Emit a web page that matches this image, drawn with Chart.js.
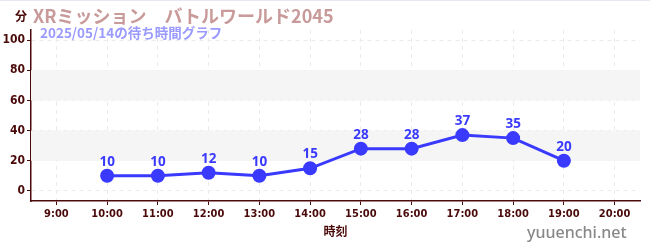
<!DOCTYPE html>
<html>
<head>
<meta charset="utf-8">
<script src="https://cdn.jsdelivr.net/npm/chart.js@4"></script>
<style>
  body { margin: 0; background: #fff; }
  #wrap { position: relative; width: 650px; height: 250px; border-top: 1px solid #e6e6f4; box-sizing: border-box; }
  #c { position: absolute; left: 0; top: 0; }
  .t { position: absolute; white-space: pre; font-family: "Noto Sans CJK JP", "Noto Sans", sans-serif; font-weight: bold; }
</style>
</head>
<body>
<div id="wrap">
  <canvas id="c" width="650" height="250"></canvas>
  <div class="t" style="left:15px;top:6px;font-size:12px;color:#4a0a0a;">分</div>
  <div class="t" style="left:33px;top:1px;font-size:18px;color:#c99a9a;">XRミッション　バトルワールド2045</div>
  <div class="t" style="left:40px;top:21px;font-size:13.5px;color:#9a9aff;">2025/05/14の待ち時間グラフ</div>
  <div class="t" style="left:527px;top:220px;font-size:16px;font-weight:500;color:#888888;font-family:'Noto Sans', sans-serif;">yuuenchi.net</div>
</div>
<script>
const hours = ['9:00', '10:00', '11:00', '12:00', '13:00', '14:00', '15:00', '16:00', '17:00', '18:00', '19:00', '20:00'];
const waits = [null, 10, 10, 12, 10, 15, 28, 28, 37, 35, 20, null];
const bands = [[20, 40], [60, 80]];

const dark = '#4a0a0a';

const bandPlugin = {
  id: 'bands',
  beforeDatasetsDraw(chart) {
    const { ctx, chartArea, scales } = chart;
    ctx.save();
    ctx.fillStyle = '#f5f5f5';
    bands.forEach(([a, b]) => {
      const y1 = scales.y.getPixelForValue(b);
      const y2 = scales.y.getPixelForValue(a);
      ctx.fillRect(chartArea.left, y1, chartArea.right - chartArea.left, y2 - y1);
    });
    ctx.restore();
  }
};

const labelPlugin = {
  id: 'vals',
  afterDatasetsDraw(chart) {
    const { ctx } = chart;
    const meta = chart.getDatasetMeta(0);
    ctx.save();
    ctx.fillStyle = '#3a3aff';
    ctx.font = 'bold 13.5px "Noto Sans", sans-serif';
    ctx.textAlign = 'center';
    ctx.textBaseline = 'bottom';
    meta.data.forEach((pt, i) => {
      if (waits[i] == null) return;
      ctx.fillText(String(waits[i]), pt.x, pt.y - 7);
    });
    ctx.restore();
  }
};

new Chart(document.getElementById('c'), {
  type: 'line',
  data: {
    labels: hours,
    datasets: [{
      data: waits,
      borderColor: '#3a3aff',
      backgroundColor: '#3a3aff',
      borderWidth: 3,
      pointRadius: 5.5,
      pointHoverRadius: 5.5,
      tension: 0
    }]
  },
  options: {
    responsive: false,
    animation: false,
    layout: { padding: { top: 29, right: 10, left: 0, bottom: 8 } },
    plugins: { legend: { display: false }, tooltip: { enabled: false } },
    scales: {
      x: {
        offset: true,
        afterFit(s) { s.height = 42; },
        grid: {
          offset: false,
          color: '#ebebeb',
          tickColor: dark,
          tickLength: 4
        },
        border: { color: dark, width: 1.5, dash: [4, 4] },
        ticks: { color: dark, font: { size: 11, weight: 'bold', family: '"DejaVu Sans Condensed", "DejaVu Sans", sans-serif' }, padding: 3, maxRotation: 0, autoSkip: false },
        title: { display: true, text: '時刻', color: dark, font: { size: 12, weight: 'bold', family: '"Noto Sans CJK JP", sans-serif' }, padding: { top: 6 } }
      },
      y: {
        min: -6.7,
        max: 106.7,
        afterFit(s) { s.width = 31; },
        afterBuildTicks(s) {
          const t = [];
          for (let v = 0; v <= 100; v += 10) t.push({ value: v });
          s.ticks = t;
        },
        grid: {
          color: ctx => (ctx.tick && ctx.tick.value % 20 === 0) ? '#ebebeb' : 'rgba(0,0,0,0)',
          tickColor: ctx => (ctx.tick && ctx.tick.value % 20 === 0) ? dark : '#e02020',
          tickLength: 4
        },
        border: { color: dark, width: 1.5, dash: [4, 4] },
        ticks: {
          color: dark,
          padding: 2,
          font: { size: 12, weight: 'bold', family: '"DejaVu Sans Condensed", "DejaVu Sans", sans-serif' },
          callback: v => (v % 20 === 0 ? String(v) : '')
        }
      }
    }
  },
  plugins: [bandPlugin, labelPlugin]
});
</script>
</body>
</html>
